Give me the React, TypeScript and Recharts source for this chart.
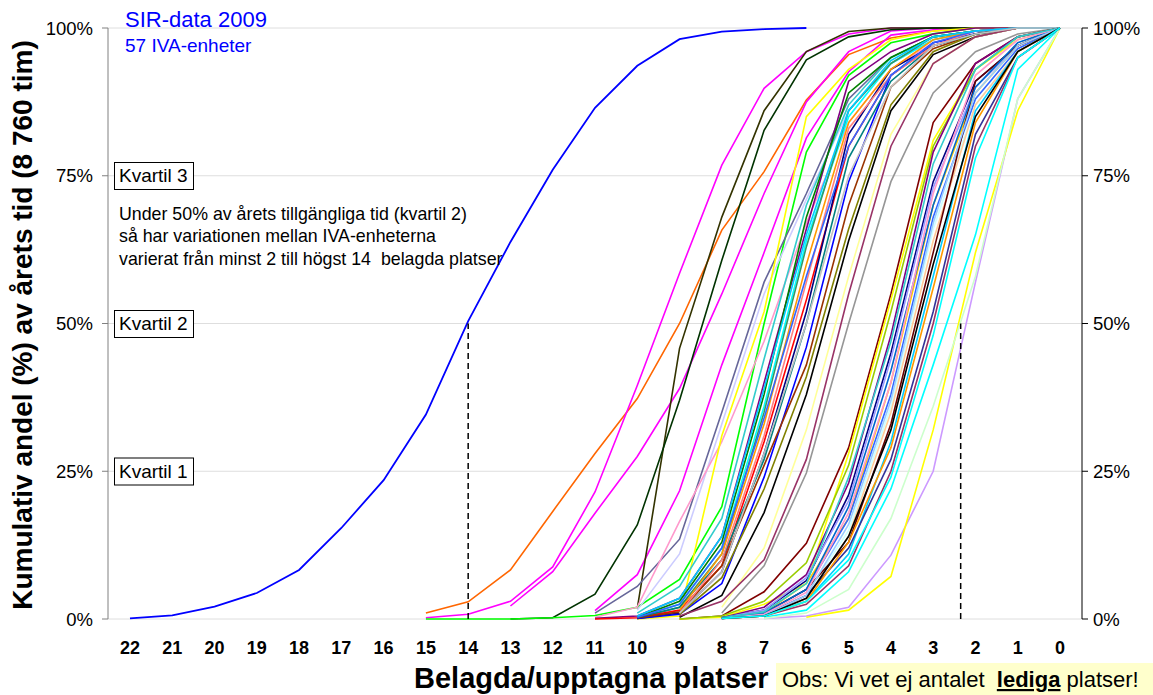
import { LineChart, Line, XAxis, YAxis, CartesianGrid, ReferenceLine } from 'recharts';

const _ = null;

// x-axis: belagda platser, 22 -> 0
const platser = [22, 21, 20, 19, 18, 17, 16, 15, 14, 13, 12, 11, 10, 9, 8, 7, 6, 5, 4, 3, 2, 1, 0];
const procentTicks = [0, 25, 50, 75, 100];

// SIR total, x = 22..6
const sirTotal = [0.1, 0.6, 2.1, 4.4, 8.3, 15.4, 23.5, 34.6, 50.4, 63.8, 76, 86.5, 93.6, 98.1, 99.4, 99.8, 100];

// one array per IVA-enhet, x = 15..0 (null = no value)
const iva01 = [1.0, 2.9, 8.3, 18.2, 28, 37.3, 50, 65.8, 75.7, 87.8, 95.5, 98.3, 99.5, 100, 100, 100];
const iva02 = [0.2, 0.8, 3.0, 8.8, 21.5, 39.5, 58.5, 76.8, 89.8, 96, 99, 100, 100, 100, 100, 100];
const iva03 = [_, _, 2.2, 8.0, 17.9, 27.5, 39, 55, 72, 87.5, 96, 99.5, 100, 100, 100, 100];
const iva04 = [_, _, _, _, 1.4, 7.5, 21.7, 43, 62, 81.4, 92.6, 98.8, 99.7, 100, 100, 100];
const iva05 = [_, _, _, _, _, 1.8, 45.8, 68, 86, 96, 99.4, 100, 100, 100, 100, 100];
const iva06 = [_, _, 0, 0.2, 4.2, 15.9, 37, 60.7, 82.7, 94.6, 98.5, 99.7, 100, 100, 100, 100];
const iva07 = [0, 0, 0, 0.2, 0.6, 2, 6.7, 19, 50, 79, 92, 97.5, 99, 100, 100, 100];
const iva08 = [_, _, _, _, 1, 5.5, 13.5, 35, 57, 72, 88, 95, 98.5, 99.5, 100, 100];
const iva09 = [_, _, _, _, _, 1.5, 11, 33, 55, 71, 86, 94, 98, 99.5, 100, 100];
const iva10 = [_, _, _, _, 0.3, 2, 16.5, 30, 47, 67, 84, 93, 97.5, 99.5, 100, 100];
const iva11 = [_, _, _, _, _, 0, 0.5, 31, 52, 85, 93, 98, 99.5, 100, 100, 100];
const iva12 = [_, _, _, _, _, 1, 5.5, 17, 44, 70, 87, 95, 98.5, 99.5, 100, 100];
const iva13 = [_, _, _, _, 0.1, 0.5, 3.5, 14, 40, 66, 91, 96, 99, 100, 100, 100];
const iva14 = [_, _, _, _, _, 0.3, 2.5, 12, 36, 64, 85, 94, 98, 99.5, 100, 100];
const iva15 = [_, _, _, _, _, 0.3, 3, 13, 38, 68, 89, 95, 98.5, 99.5, 100, 100];
const iva16 = [_, _, _, _, _, 0.1, 2, 11, 35, 63, 86, 94, 98.5, 99.5, 100, 100];
const iva17 = [_, _, _, _, 0, 0.2, 1.5, 9, 30, 54, 80, 92, 97, 99, 100, 100];
const iva18 = [_, _, _, _, _, 0.1, 1, 8, 28, 52, 82, 93, 97, 99, 100, 100];
const iva19 = [_, _, _, _, _, 0.1, 0.8, 6, 24, 46, 74, 92, 97.5, 99, 100, 100];
const iva20 = [_, _, _, _, _, 0.2, 1.2, 9, 26, 43, 70, 90, 96.5, 99, 100, 100];
const iva21 = [_, _, _, _, _, _, 0.8, 7, 22, 41, 66, 87, 96, 99, 100, 100];
const iva22 = [_, _, _, _, _, _, 0.3, 4, 18, 38, 64, 86, 95.5, 98.5, 100, 100];
const iva23 = [_, _, _, _, _, _, _, 1, 9, 24.7, 50, 74, 89, 96, 99, 100];
const iva24 = [_, _, _, _, _, 0.3, 2, 10, 27, 50, 78, 91, 97, 99, 100, 100];
const iva25 = [_, _, _, _, _, _, 1.5, 11, 33, 60, 84, 93, 98, 99.5, 100, 100];
const iva26 = [_, _, _, _, _, _, 1, 10, 31, 57, 83, 92, 97, 99.5, 100, 100];
const iva27 = [_, _, _, _, _, _, _, 2, 12, 32, 58, 82, 94, 98.5, 100, 100];
const iva28 = [_, _, _, _, _, 0.3, 2.5, 12, 34, 58, 80, 92, 97.5, 99.5, 100, 100];
const iva29 = [_, _, _, _, _, _, 0.5, 3, 10, 27, 55, 80, 94, 98.5, 100, 100];
const iva30 = [_, _, _, _, _, 0.5, 3.5, 14, 39, 65, 86, 94.5, 98.5, 99.5, 100, 100];
const iva31 = [_, _, _, _, _, _, 1, 8, 28, 50, 75, 90, 97, 99, 100, 100];
const iva32 = [_, _, _, _, _, _, 0, 0.5, 4.6, 12.8, 29, 55, 84, 94, 98.5, 100];
const iva33 = [_, _, _, _, _, _, 0, 0.3, 2.5, 6, 28, 54, 81, 93, 98, 100];
const iva34 = [_, _, _, _, _, _, 0, 0.5, 3, 9.5, 26, 52, 80, 93, 98.5, 100];
const iva35 = [_, _, _, _, _, _, _, 0.2, 2, 7.5, 23, 48, 79, 94, 98.5, 100];
const iva36 = [_, _, _, _, _, _, _, 0.2, 1.5, 6.5, 21, 45, 74, 91, 97, 100];
const iva37 = [_, _, _, _, _, _, _, 0.2, 1.5, 7, 20, 44, 73, 90, 97, 100];
const iva38 = [_, _, _, _, _, _, _, 0.1, 1, 6, 17, 40, 70, 89, 97, 100];
const iva39 = [_, _, _, _, _, _, _, 0.2, 1, 5, 17, 38, 68, 88, 96.5, 100];
const iva40 = [_, _, _, _, _, _, _, 0.1, 0.6, 4, 15, 36, 66, 87, 96, 100];
const iva41 = [_, _, _, _, _, _, _, 0.1, 0.6, 3.5, 14, 35, 64, 87, 96, 100];
const iva42 = [_, _, _, _, _, _, _, 0.2, 1, 5, 13, 33, 62, 91, 97, 100];
const iva43 = [_, _, _, _, _, _, _, _, 0.3, 1.5, 8, 22, 43, 65, 93, 100];
const iva44 = [_, _, _, _, _, _, _, _, 0.1, 0.5, 2, 10.8, 25, 57, 88, 100];
const iva45 = [_, _, _, _, _, _, _, _, _, 0.3, 1.5, 7.2, 32, 62, 86, 100];
const iva46 = [_, _, _, _, _, _, _, _, 0.1, 1, 5, 17, 36, 58, 88, 100];
const iva47 = [_, _, _, _, _, _, _, 0.1, 0.5, 3, 11, 30, 58, 86, 96, 100];
const iva48 = [_, _, _, _, _, _, _, 0.1, 0.7, 4, 12, 27, 52, 82, 95, 100];
const iva49 = [_, _, _, _, _, _, _, 0.1, 0.5, 2.5, 9, 25, 50, 80, 95, 100];
const iva50 = [_, _, _, _, _, _, _, 0.1, 0.5, 3, 13, 29, 56, 84, 96, 100];
const iva51 = [_, _, _, _, _, _, _, 0.2, 1, 5, 19, 42, 70, 90, 97.5, 100];
const iva52 = [_, _, _, _, _, _, _, 0.1, 0.8, 4.5, 18, 40, 72, 92, 98, 100];
const iva53 = [_, _, _, _, _, _, _, 0.2, 1.2, 6, 24, 47, 77, 93, 98.5, 100];
const iva54 = [_, _, _, _, _, _, _, 0.1, 0.6, 4, 16, 37, 67, 89, 97, 100];
const iva55 = [_, _, _, _, _, _, _, 0.1, 0.5, 3.5, 14, 32, 60, 85, 96, 100];
const iva56 = [_, _, _, _, _, _, _, 0.1, 0.5, 3, 10, 24, 48, 78, 95, 100];

const enheter = [
  iva01, iva02, iva03, iva04, iva05, iva06, iva07, iva08, iva09, iva10,
  iva11, iva12, iva13, iva14, iva15, iva16, iva17, iva18, iva19, iva20,
  iva21, iva22, iva23, iva24, iva25, iva26, iva27, iva28, iva29, iva30,
  iva31, iva32, iva33, iva34, iva35, iva36, iva37, iva38, iva39, iva40,
  iva41, iva42, iva43, iva44, iva45, iva46, iva47, iva48, iva49, iva50,
  iva51, iva52, iva53, iva54, iva55, iva56,
];

const farger = [
  '#FF6600', '#FF00FF', '#FF00FF', '#FF00FF', '#333300', '#003300', '#00FF00', '#666699', '#CCCCFF', '#FF99CC',
  '#FFFF00', '#33CCCC', '#800080', '#00FFFF', '#008000', '#339966', '#FF0000', '#000080', '#0000FF', '#993300',
  '#808000', '#000000', '#969696', '#008080', '#FF9900', '#FF8080', '#FFFF99', '#3366FF', '#993366', '#00CCFF',
  '#C0C0C0', '#800000', '#FFFF00', '#99CC00', '#800080', '#000080', '#9999FF', '#FFCC00', '#3366FF', '#CCFFFF',
  '#FFCC99', '#660000', '#00FFFF', '#CC99FF', '#FFFF00', '#CCFFCC', '#00CCFF', '#333399', '#993366', '#FF9900',
  '#0066CC', '#FF99CC', '#33CCCC', '#99CCFF', '#000000', '#00FFFF',
];

// median (kvartil 2) markers
const kvartil2Min = 2.35;
const kvartil2Max = 14;

const rows = platser.map((x) => {
  const row: Record<string, number | null> = { x };
  const si = 22 - x;
  row.sir = si < sirTotal.length ? sirTotal[si] : null;
  enheter.forEach((vals, k) => {
    row[`e${k}`] = x <= 15 ? vals[15 - x] : null;
  });
  return row;
});

const font = "'Liberation Sans', Arial, Helvetica, sans-serif";

export default function App() {
  return (
    <div style={{ position: 'absolute', left: 0, top: 0, width: 1153, height: 695, background: '#fff', fontFamily: font }}>
      <LineChart width={1153} height={695} data={rows} margin={{ top: 28, right: 0, bottom: 0, left: 0 }}>
        <CartesianGrid yAxisId="left" vertical={false} stroke="#DEDEDE" />
        <XAxis
          type="number"
          dataKey="x"
          domain={[-0.52, 22.52]}
          reversed
          ticks={platser}
          interval={0}
          height={76}
          axisLine={false}
          tickLine={false}
          tickSize={0}
          tickMargin={22}
          tick={{ fontSize: 18, fontWeight: 'bold', fill: '#000' }}
        />
        <YAxis
          yAxisId="left"
          type="number"
          domain={[0, 100]}
          ticks={procentTicks}
          tickFormatter={(v) => `${v}%`}
          width={108}
          axisLine={{ stroke: '#808080' }}
          tickLine={{ stroke: '#808080' }}
          tickSize={6}
          tickMargin={9}
          tick={{ fontSize: 18.5, fill: '#000' }}
        />
        <YAxis
          yAxisId="right"
          orientation="right"
          type="number"
          domain={[0, 100]}
          ticks={procentTicks}
          interval={0}
          tickFormatter={(v) => `${v}%`}
          width={71}
          axisLine={{ stroke: '#000' }}
          tickLine={{ stroke: '#000' }}
          tickSize={6}
          tickMargin={5}
          tick={{ fontSize: 18.5, fill: '#000' }}
        />
        {enheter.map((_v, k) => (
          <Line
            key={k}
            yAxisId="left"
            type="linear"
            dataKey={`e${k}`}
            stroke={farger[k]}
            strokeWidth={1.6}
            dot={false}
            activeDot={false}
            isAnimationActive={false}
          />
        ))}
        {/* SIR total on the right axis (same 0-100% scale) */}
        <Line yAxisId="right" type="linear" dataKey="sir" stroke="#0000FF" strokeWidth={1.8} dot={false} activeDot={false} isAnimationActive={false} />
        <ReferenceLine yAxisId="left" segment={[{ x: kvartil2Max, y: 0 }, { x: kvartil2Max, y: 50 }]} stroke="#000" strokeWidth={1.5} strokeDasharray="6 4" />
        <ReferenceLine yAxisId="left" segment={[{ x: kvartil2Min, y: 0 }, { x: kvartil2Min, y: 50 }]} stroke="#000" strokeWidth={1.5} strokeDasharray="6 4" />
      </LineChart>

      <svg width={1153} height={695} style={{ position: 'absolute', left: 0, top: 0, pointerEvents: 'none', fontFamily: font, whiteSpace: 'pre' }}>
        <text x={125} y={26.5} fontSize={22} fill="#0000FF">SIR-data 2009</text>
        <text x={125} y={51.5} fontSize={19} fill="#0000FF">57 IVA-enheter</text>

        {[['Kvartil 3', 162], ['Kvartil 2', 310], ['Kvartil 1', 457.5]].map(([t, y]) => (
          <g key={t as string}>
            <rect x={114.5} y={(y as number) + 0.5} width={79} height={27} fill="#fff" stroke="#000" strokeWidth={1} />
            <text x={119} y={(y as number) + 20} fontSize={19} fill="#000">{t}</text>
          </g>
        ))}

        <text x={119} y={219.5} fontSize={17.8} fill="#000">Under 50% av årets tillgängliga tid (kvartil 2)</text>
        <text x={119} y={242} fontSize={17.8} fill="#000">så har variationen mellan IVA-enheterna</text>
        <text x={119} y={264.5} fontSize={17.8} fill="#000" xmlSpace="preserve">{'varierat från minst 2 till högst 14  belagda platser'}</text>

        <text transform="translate(32,325) rotate(-90)" textAnchor="middle" fontSize={28} fontWeight="bold" fill="#000">
          Kumulativ andel (%) av årets tid (8 760 tim)
        </text>

        <text x={414} y={688} fontSize={29} fontWeight="bold" fill="#000">Belagda/upptagna platser</text>

        <rect x={776} y={663} width={377} height={32} fill="#FFFFCC" />
        <text x={782} y={687} fontSize={22} fill="#000" xmlSpace="preserve">
          {'Obs: Vi vet ej antalet  '}
          <tspan fontWeight="bold" textDecoration="underline">lediga</tspan>
          {' platser!'}
        </text>
      </svg>
    </div>
  );
}
